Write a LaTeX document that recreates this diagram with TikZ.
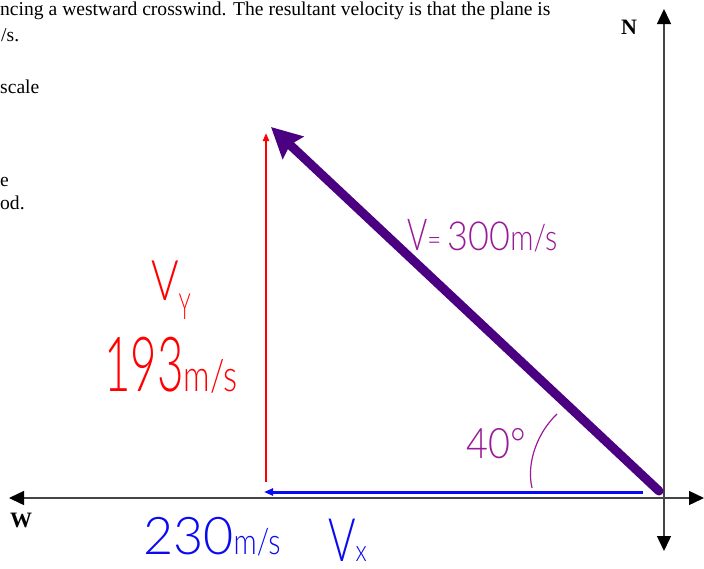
\documentclass[tikz,border=0pt]{standalone}
\usepackage{fontspec}
\setmainfont{Liberation Serif}
\newfontfamily\hand{Lato}[UprightFont=* Light]
\usetikzlibrary{arrows.meta}
\definecolor{axisgray}{HTML}{444444}
\definecolor{vpurple}{HTML}{4B0082}
\definecolor{tpurple}{HTML}{991A99}
\definecolor{hred}{HTML}{FF0000}
\definecolor{hblue}{HTML}{0A0AF0}
\newcommand{\fs}[1]{\fontsize{#1}{#1}\selectfont}
\begin{document}
\begin{tikzpicture}[x=1pt,y=-1pt,
  axis/.style={draw=axisgray,line width=1.4pt,
    {Triangle[length=15pt,width=14pt,color=black]}-{Triangle[length=15pt,width=14pt,color=black]}},
  printed/.style={inner sep=0pt,font=\fs{19.6}},
  hw/.style={inner sep=0pt,font=\hand}]
\useasboundingbox (0,0) rectangle (704,568);
\clip (0,0) rectangle (704,568);
% coordinates
\coordinate (Wtip) at (9,498);
\coordinate (Etip) at (704,498);
\coordinate (Ntip) at (664,9);
\coordinate (Stip) at (664,551);
\coordinate (O) at (659,491);
\coordinate (Vtip) at (271,127);
\coordinate (Ybot) at (266,482);
\coordinate (Ytip) at (266,133);
\coordinate (Xstart) at (643,492);
\coordinate (Xtip) at (264,492);
\coordinate (arcA) at (557,414);
\coordinate (arcB) at (532,488);
% printed text
\node[printed,anchor=base west] (t1) at (0,15) {ncing a westward crosswind. The resultant velocity is that the plane is};
\node[printed,anchor=base west] (t2) at (1,41) {/s.};
\node[printed,anchor=base west] (t3) at (0,93) {scale};
\node[printed,anchor=base west] (t4) at (0,186) {e};
\node[printed,anchor=base west] (t5) at (0,209) {od.};
\node[printed,font=\fs{22}\bfseries] (N) at (629,27) {N};
\node[printed,font=\fs{22}\bfseries] (W) at (21,520) {W};
% axes
\draw[axis] (Wtip) -- (Etip);
\draw[axis] (Stip) -- (Ntip);
% components
\draw[hred,line width=2.5pt,-{Triangle[length=8pt,width=6pt]}] (Ybot) -- (Ytip);
\draw[hblue,line width=3pt,-{Triangle[length=9pt,width=7pt]}] (Xstart) -- (Xtip);
\draw[vpurple,line width=9pt,line cap=round,-{Stealth[length=30pt,width=30pt,inset=4pt]}] (O) -- (Vtip);
\draw[tpurple,line width=1.2pt] (arcA) .. controls (538,432) and (526,462) .. (arcB);
% handwritten labels
\node[hw,text=hred] (vy) at (171,290) {\scalebox{0.75}[1]{\fs{56}V}\raisebox{-19pt}{\scalebox{0.55}[1]{\fs{36}Y}}};
\node[hw,text=hred,anchor=base west] (vyval) at (104,391) {\scalebox{0.6}[1]{\fs{76}193}\scalebox{0.75}[1]{\fs{44}m/s}};
\node[hw,text=tpurple,anchor=base west] (vval) at (407,250) {\scalebox{0.7}[1]{\fs{44}V}\scalebox{0.8}[1]{\fs{30}= }\scalebox{0.9}[1]{\fs{40}300}\scalebox{0.8}[1]{\fs{36}m/s}};
\node[hw,text=tpurple,anchor=base west] (ang) at (466,458) {\scalebox{0.9}[1]{\fs{42}40\textdegree}};
\node[hw,text=hblue,anchor=base west] (vxval) at (143,554) {\fs{52}230\scalebox{0.8}[1]{\fs{36}m/s}};
\node[hw,text=hblue,anchor=base west] (vx) at (328,561) {\scalebox{0.7}[1]{\fs{60}V}\scalebox{0.8}[1]{\fs{30}x}};
\end{tikzpicture}
\end{document}
